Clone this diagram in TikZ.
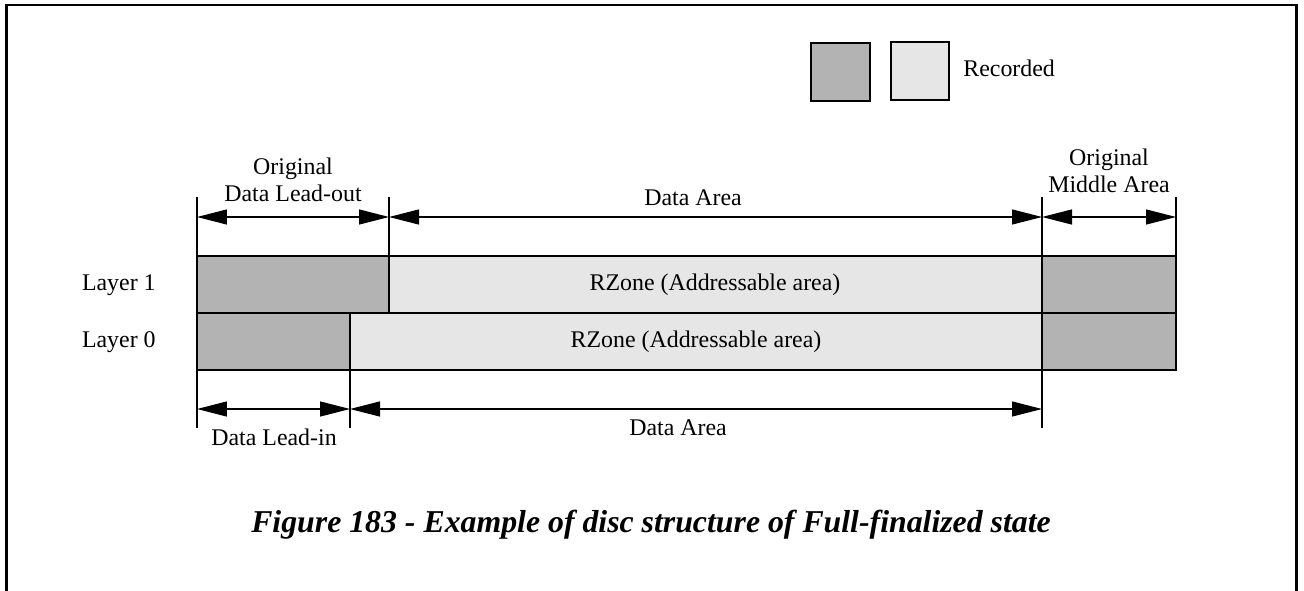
\documentclass[tikz,border=0pt]{standalone}
\usepackage{fontspec}
\setmainfont{Liberation Serif}
\usetikzlibrary{arrows.meta,positioning}
\definecolor{recdark}{RGB}{179,179,179}
\definecolor{reclight}{RGB}{230,230,230}

\begin{document}
\begin{tikzpicture}[
        x=0.02cm, y=-0.02cm,
        lbl/.style={font=\fontsize{13.6}{15.2}\selectfont, align=center, inner sep=0pt},
        zone/.style={draw, line width=0.75pt},
        tick/.style={line width=0.75pt},
        dim/.style={{Triangle[length=0.6cm,width=0.3cm]}-{Triangle[length=0.6cm,width=0.3cm]}, line width=0.7pt},
        frame/.style={line width=1.7pt}
      ]
        \useasboundingbox (0,0) rectangle (1304,591);
        \draw[frame] (6.5,600) -- (6.5,5) -- (1296.5,5) -- (1296.5,600);

        % legend
        \draw[zone, fill=recdark] (811,43) rectangle (870,101);
        \draw[zone, fill=reclight] (891,42) rectangle (949,100);
        \node[lbl, anchor=base west] (rec) at (963,77) {Recorded};

        % layers
        \draw[zone, fill=recdark] (197,256) rectangle (389,313);
        \draw[zone, fill=reclight] (389,256) rectangle (1042,313);
        \draw[zone, fill=recdark] (1042,256) rectangle (1176,313);
        \draw[zone, fill=recdark] (197,313) rectangle (350,370);
        \draw[zone, fill=reclight] (350,313) rectangle (1042,370);
        \draw[zone, fill=recdark] (1042,313) rectangle (1176,370);
        \node[lbl] (rz1) at (715,285) {RZone (Addressable area)};
        \node[lbl] (rz0) at (696,342) {RZone (Addressable area)};
        \node[lbl, anchor=east] (l1) at (156,285) {Layer 1};
        \node[lbl, anchor=east] (l0) at (156,342) {Layer 0};

        % top dimensions
        \coordinate (t0) at (197,217);
        \coordinate (t1) at (389,217);
        \coordinate (t2) at (1042,217);
        \coordinate (t3) at (1176,217);
        \foreach \c in {t0,t1,t2,t3} \draw[tick] (\c) ++(0,-20) -- ++(0,59);
        \draw[dim] (t0) -- (t1);
        \draw[dim] (t1) -- (t2);
        \draw[dim] (t2) -- (t3);
        \node[lbl, anchor=south] (dlo) at (293,202) {Original\\Data Lead-out};
        \node[lbl, anchor=base] (da1) at (693,206) {Data Area};
        \node[lbl, anchor=south] (oma) at (1109,193) {Original\\Middle Area};

        % bottom dimensions
        \coordinate (b0) at (197,409);
        \coordinate (b1) at (350,409);
        \coordinate (b2) at (1042,409);
        \foreach \c in {b0,b1,b2} \draw[tick] (\c) ++(0,-39) -- ++(0,58);
        \draw[dim] (b0) -- (b1);
        \draw[dim] (b1) -- (b2);
        \node[lbl, anchor=base] (dli) at (274,445) {Data Lead-in};
        \node[lbl, anchor=base] (da0) at (678,435) {Data Area};

        % caption
        \node[font=\fontsize{18.1}{21}\bfseries\itshape, anchor=base, inner sep=0pt] (cap) at (651,532)
          {Figure 183 - Example of disc structure of Full-finalized state};
      \end{tikzpicture}
\end{document}
